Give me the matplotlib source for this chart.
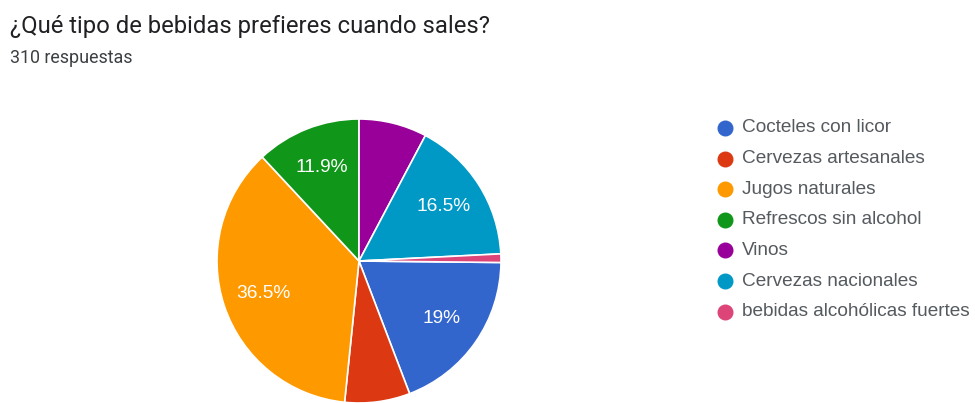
"""Pie chart of preferred drinks when going out (survey summary)."""

import matplotlib as mpl
import matplotlib.pyplot as plt

mpl.style.use("default")
plt.rcParams["font.family"] = ["Roboto", "DejaVu Sans"]

# Survey answers (number of responses per option)
labels = [
    "Cocteles con licor",
    "Cervezas artesanales",
    "Jugos naturales",
    "Refrescos sin alcohol",
    "Vinos",
    "Cervezas nacionales",
    "bebidas alcohólicas fuertes",
]
counts = [59, 23, 113, 37, 24, 51, 3]
colors = ["#3366cc", "#dc3912", "#ff9900", "#109618", "#990099", "#0099c6", "#dd4477"]

title = "¿Qué tipo de bebidas prefieres cuando sales?"
subtitle = "310 respuestas"


def pct_label(pct: float) -> str:
    """Only label slices big enough to hold the text."""
    if pct < 10:
        return ""
    text = f"{pct:.1f}"
    if text.endswith(".0"):
        text = text[:-2]
    return text + "%"


W, H = 975, 403
fig = plt.figure(figsize=(W / 100, H / 100), dpi=100)

cx, cy, r = 359, 261, 142
ax = fig.add_axes([(cx - r) / W, (H - cy - r) / H, 2 * r / W, 2 * r / H])
wedges, _, autotexts = ax.pie(
    counts,
    colors=colors,
    startangle=-0.6,
    counterclock=False,
    autopct=pct_label,
    pctdistance=0.71,
    wedgeprops=dict(edgecolor="white", linewidth=1.2),
    textprops=dict(color="white", fontsize=13.8, family="Liberation Sans"),
)
ax.set_xlim(-1, 1)
ax.set_ylim(-1, 1)
ax.set_axis_off()

fig.text(10 / W, 1 - 33 / H, title, fontsize=17.2, color="#202124", va="baseline")
fig.text(10 / W, 1 - 63 / H, subtitle, fontsize=12.9, color="#3c4043", va="baseline")

# legend: coloured dots with the option names
y0, step = 128, 30.6
for i, (name, col) in enumerate(zip(labels, colors)):
    y = 1 - (y0 + i * step) / H
    fig.lines.append(
        mpl.lines.Line2D([725 / W], [y], marker="o", markersize=10.5,
                         color=col, transform=fig.transFigure)
    )
    fig.text(742 / W, y, name, fontsize=13.7, color="#555a5f", va="center",
             family="Liberation Sans")

fig.savefig("out.png", dpi=100)
